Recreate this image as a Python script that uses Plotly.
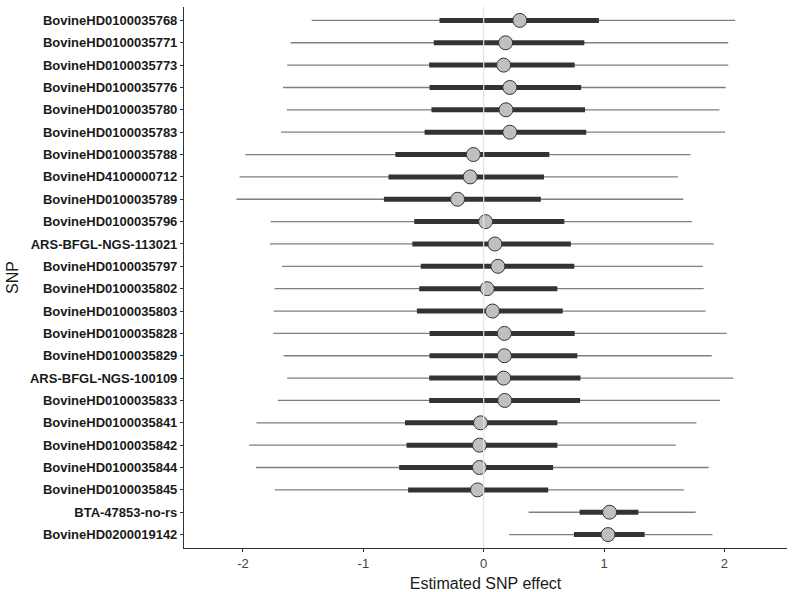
import plotly.graph_objects as go

snps = [
    "BovineHD0100035768", "BovineHD0100035771", "BovineHD0100035773",
    "BovineHD0100035776", "BovineHD0100035780", "BovineHD0100035783",
    "BovineHD0100035788", "BovineHD4100000712", "BovineHD0100035789",
    "BovineHD0100035796", "ARS-BFGL-NGS-113021", "BovineHD0100035797",
    "BovineHD0100035802", "BovineHD0100035803", "BovineHD0100035828",
    "BovineHD0100035829", "ARS-BFGL-NGS-100109", "BovineHD0100035833",
    "BovineHD0100035841", "BovineHD0100035842", "BovineHD0100035844",
    "BovineHD0100035845", "BTA-47853-no-rs", "BovineHD0200019142",
]
effect = [0.300, 0.182, 0.166, 0.217, 0.185, 0.217, -0.086, -0.112, -0.217,
          0.016, 0.093, 0.118, 0.029, 0.073, 0.172, 0.172, 0.166, 0.175,
          -0.026, -0.035, -0.035, -0.051, 1.046, 1.033]
outer_lo = [-1.429, -1.604, -1.633, -1.668, -1.636, -1.684, -1.981, -2.029, -2.054,
            -1.770, -1.777, -1.675, -1.738, -1.745, -1.748, -1.662, -1.633, -1.710,
            -1.888, -1.949, -1.892, -1.735, 0.373, 0.211]
outer_hi = [2.089, 2.032, 2.032, 2.010, 1.959, 2.006, 1.719, 1.614, 1.659,
            1.732, 1.911, 1.821, 1.828, 1.844, 2.019, 1.895, 2.073, 1.965,
            1.767, 1.595, 1.869, 1.665, 1.761, 1.901]
inner_lo = [-0.367, -0.415, -0.453, -0.450, -0.434, -0.491, -0.734, -0.791, -0.829,
            -0.577, -0.593, -0.523, -0.536, -0.555, -0.450, -0.450, -0.453, -0.453,
            -0.654, -0.641, -0.702, -0.628, 0.797, 0.750]
inner_hi = [0.957, 0.836, 0.756, 0.810, 0.842, 0.852, 0.545, 0.501, 0.475,
            0.670, 0.724, 0.753, 0.612, 0.657, 0.756, 0.778, 0.804, 0.801,
            0.612, 0.612, 0.577, 0.536, 1.285, 1.337]
x_ticks = [-2, -1, 0, 1, 2]
x_tick_labels = ["-2", "-1", "0", "1", "2"]

fig = go.Figure()

# zero reference line
fig.add_trace(go.Scatter(x=[0, 0], y=[-0.6, 23.6], mode="lines",
                         line=dict(color="#e3e3e3", width=1.2),
                         yaxis="y2", hoverinfo="skip", showlegend=False))

for s, lo, hi in zip(snps, outer_lo, outer_hi):
    fig.add_trace(go.Scatter(x=[lo, hi], y=[s, s], mode="lines",
                             line=dict(color="#7f7f7f", width=1.3),
                             showlegend=False, hoverinfo="skip"))
for s, lo, hi in zip(snps, inner_lo, inner_hi):
    fig.add_trace(go.Scatter(x=[lo, hi], y=[s, s], mode="lines",
                             line=dict(color="#333333", width=5),
                             showlegend=False, hoverinfo="skip"))
fig.add_trace(go.Scatter(x=effect, y=snps, mode="markers",
                         marker=dict(size=14, color="#c0c0c0",
                                     line=dict(color="#333333", width=1)),
                         showlegend=False))

fig.update_layout(
    width=795, height=592,
    margin=dict(l=184, r=8, t=7, b=44),
    paper_bgcolor="white", plot_bgcolor="white",
    font=dict(family="Liberation Sans, Arial, sans-serif", color="#1a1a1a"),
    xaxis=dict(range=[-2.49, 2.52], tickvals=x_ticks, ticktext=x_tick_labels,
               automargin=False,
               showgrid=False, zeroline=False, showline=True,
               linecolor="#333333", linewidth=1.1,
               ticks="outside", ticklen=3, tickcolor="#333333", tickwidth=1,
               tickfont=dict(size=13, color="#444444"),
               title=dict(text="Estimated SNP effect", font=dict(size=16, color="#1a1a1a"))),
    yaxis=dict(type="category", categoryorder="array",
               categoryarray=list(reversed(snps)), range=[-0.6, 23.6],
               automargin=False,
               showgrid=False, zeroline=False, showline=True,
               linecolor="#333333", linewidth=1.1,
               ticks="outside", ticklen=3, tickcolor="#333333", tickwidth=1,
               tickfont=dict(size=13, color="#1a1a1a", weight="bold")),
    yaxis2=dict(range=[-0.6, 23.6], overlaying="y", visible=False),
    annotations=[dict(text="SNP", xref="paper", yref="paper",
                      x=-(184 - 12.5) / 603, y=0.5, xanchor="center", yanchor="middle",
                      textangle=-90, showarrow=False,
                      font=dict(size=16, color="#1a1a1a"))],
)

fig.write_html("out.html", config={"displayModeBar": False},
               post_script="document.body.style.margin='0';document.body.style.overflow='hidden';")
